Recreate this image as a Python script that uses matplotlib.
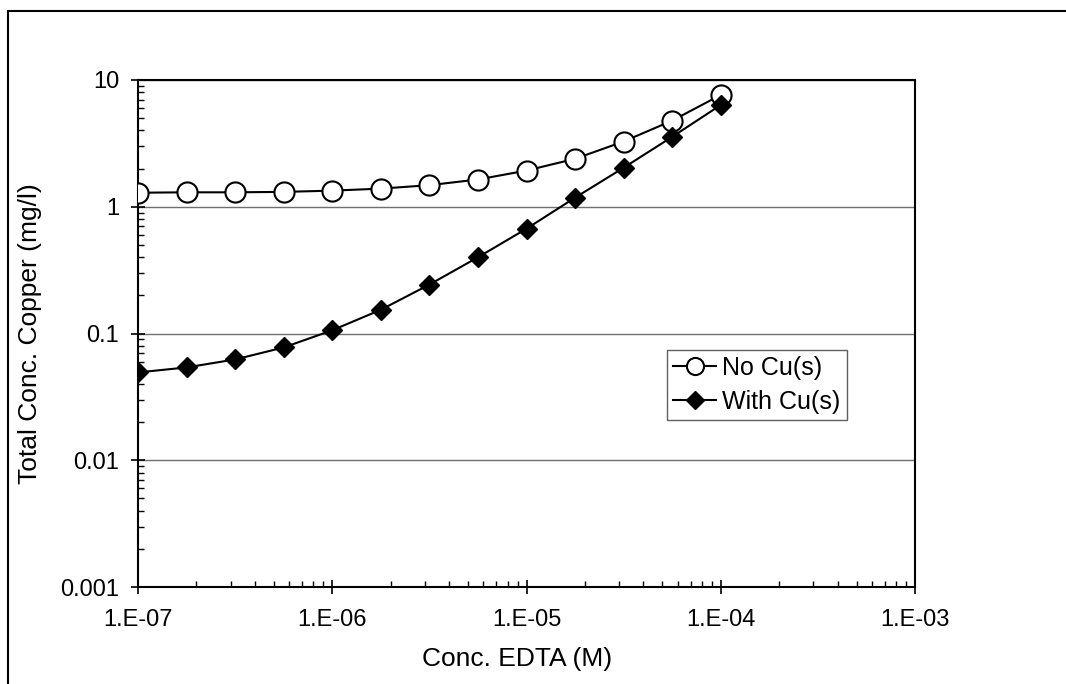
import math
import matplotlib
matplotlib.use('Agg')
import matplotlib.pyplot as plt
from matplotlib.patches import Rectangle
from matplotlib.ticker import FixedLocator, LogLocator, FuncFormatter, NullFormatter

plt.rcParams['font.family'] = ['Liberation Sans', 'DejaVu Sans']

# EDTA concentration (M), 4 points per decade
edta = [1e-7, 1.78e-7, 3.16e-7, 5.62e-7, 1e-6, 1.78e-6, 3.16e-6,
        5.62e-6, 1e-5, 1.78e-5, 3.16e-5, 5.62e-5, 1e-4]
# total copper (mg/l)
no_cu = [1.29, 1.30, 1.30, 1.31, 1.34, 1.39, 1.48, 1.64, 1.93, 2.39, 3.27, 4.78, 7.62]
with_cu = [0.0493, 0.054, 0.0624, 0.0776, 0.106, 0.154, 0.243, 0.399, 0.671,
           1.18, 2.03, 3.56, 6.35]

x_ticks = [1e-7, 1e-6, 1e-5, 1e-4, 1e-3]
y_ticks = [0.001, 0.01, 0.1, 1, 10]
y_labels = ['0.001', '0.01', '0.1', '1', '10']

fig = plt.figure(figsize=(10.66, 6.84), dpi=100)
ax = fig.add_axes([138 / 1066, 1 - 587 / 684, 777 / 1066, 507 / 684])

# outer chart border (only left and top visible)
fig.patches.append(Rectangle((8 / 1066, -0.1), 1.2, 1 - 11 / 684 + 0.1,
                             transform=fig.transFigure, fill=False,
                             edgecolor='black', linewidth=1.5))

ax.plot(edta, no_cu, color='black', lw=1.5, marker='o', ms=14.5,
        mfc='white', mec='black', mew=1.5, label='No Cu(s)', zorder=3)
ax.plot(edta, with_cu, color='black', lw=1.5, marker='D', ms=10.5,
        mfc='black', mec='black', label='With Cu(s)', zorder=4)

ax.set_xscale('log')
ax.set_yscale('log')
ax.set_xlim(1e-7, 1e-3)
ax.set_ylim(0.001, 10)

ax.xaxis.set_major_locator(FixedLocator(x_ticks))
ax.xaxis.set_major_formatter(FuncFormatter(lambda v, p: '1.E%+03d' % round(math.log10(v))))
ax.yaxis.set_major_locator(FixedLocator(y_ticks))
ax.yaxis.set_major_formatter(FuncFormatter(lambda v, p: y_labels[y_ticks.index(min(y_ticks, key=lambda t: abs(t - v)))]))
ax.xaxis.set_minor_locator(LogLocator(base=10, subs=range(2, 10), numticks=20))
ax.yaxis.set_minor_locator(LogLocator(base=10, subs=range(2, 10), numticks=20))
ax.xaxis.set_minor_formatter(NullFormatter())
ax.yaxis.set_minor_formatter(NullFormatter())

ax.tick_params(which='major', direction='inout', length=10, width=1.2,
               labelsize=17, color='black')
ax.tick_params(which='minor', direction='in', length=4.5, width=1.0, color='black')
ax.tick_params(axis='y', which='major', pad=8.5)
ax.tick_params(axis='x', which='major', pad=11)

ax.yaxis.grid(True, which='major', color='#707070', lw=1.0)
ax.set_axisbelow(True)
for s in ax.spines.values():
    s.set_linewidth(1.5)
    s.set_color('black')

ax.set_xlabel('Conc. EDTA (M)', fontsize=19)
ax.set_ylabel('Total Conc. Copper (mg/l)', fontsize=19)
ax.xaxis.set_label_coords((517 - 138) / 777, (587 - 647) / 507)
ax.yaxis.set_label_coords((42 - 138) / 777, 0.5)

leg = ax.legend(loc='lower left', bbox_to_anchor=((667 - 138) / 777, (587 - 420) / 507),
                fontsize=18, frameon=True, fancybox=False, framealpha=1,
                edgecolor='#606060', handlelength=1.7, handletextpad=0.25,
                borderpad=0.25, labelspacing=0.4, markerscale=0.85,
                borderaxespad=0)
leg.get_frame().set_linewidth(1.0)

fig.savefig('out.png', dpi=100)
